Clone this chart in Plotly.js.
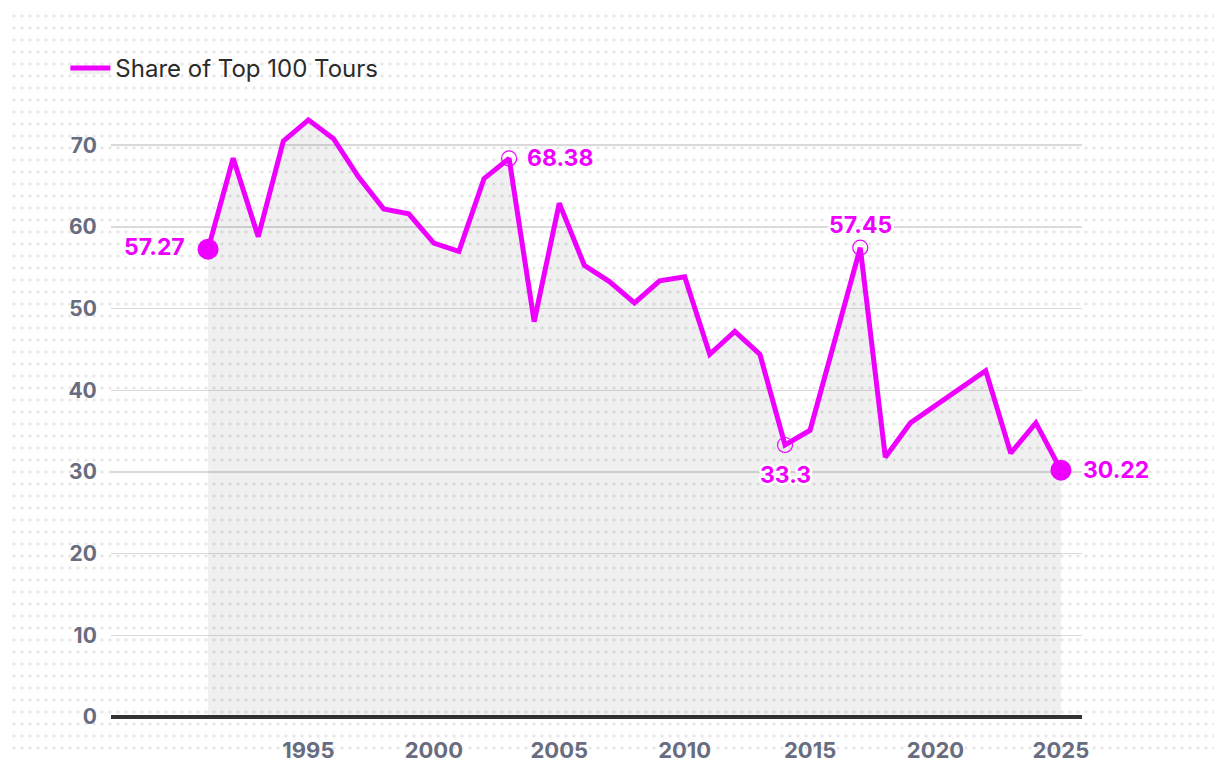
<!DOCTYPE html>
<html>
<head>
<meta charset="utf-8">
<script src="https://cdn.plot.ly/plotly-3.0.1.min.js"></script>
<style>
  html, body { margin: 0; padding: 0; background: #ffffff; }
  #wrap { position: relative; width: 1220px; height: 770px; overflow: hidden; }
  #dots {
    position: absolute; left: 10px; top: 10px; width: 1204px; height: 744px;
    background-image: radial-gradient(circle at 4px 6px, #e6e6e6 1.3px, rgba(255,255,255,0) 1.8px);
    background-size: 8px 12px;
  }
  #chart { position: absolute; left: 0; top: 0; width: 1220px; height: 770px; }
  .annotation-text { stroke: #ffffff; stroke-width: 5px; paint-order: stroke fill; stroke-linejoin: round; }
</style>
</head>
<body>
<div id="wrap">
  <div id="dots"></div>
  <div id="chart"></div>
</div>
<script>
// ---- data ----
const years = [1991, 1992, 1993, 1994, 1995, 1996, 1997, 1998, 1999, 2000,
               2001, 2002, 2003, 2004, 2005, 2006, 2007, 2008, 2009, 2010,
               2011, 2012, 2013, 2014, 2015, 2017, 2018, 2019, 2022, 2023,
               2024, 2025];
const share = [57.27, 68.4, 58.8, 70.5, 73.1, 70.8, 66.1, 62.2, 61.6, 58.0,
               57.0, 65.9, 68.38, 48.4, 62.9, 55.3, 53.3, 50.7, 53.4, 53.9,
               44.4, 47.2, 44.4, 33.3, 35.1, 57.45, 31.8, 36.0, 42.4, 32.3,
               36.0, 30.22];
const seriesName = "Share of Top 100 Tours";
const yTicks = [0, 10, 20, 30, 40, 50, 60, 70];
const xTicks = [1995, 2000, 2005, 2010, 2015, 2020, 2025];
const endpointYears = [1991, 2025];
const highlightYears = [2003, 2014, 2017];
const labelYears = [1991, 2003, 2014, 2017, 2025];

// ---- styling ----
const MAGENTA = "#ee00ff";
const font = "Inter, 'Liberation Sans', Arial, sans-serif";
const labelPlacement = {
  1991: { xanchor: "right", yanchor: "middle", xshift: -21, yshift: 2 },
  2003: { xanchor: "left", yanchor: "middle", xshift: 16, yshift: 0 },
  2014: { xanchor: "center", yanchor: "middle", xshift: 0, yshift: -30 },
  2017: { xanchor: "center", yanchor: "middle", xshift: 0, yshift: 23 },
  2025: { xanchor: "left", yanchor: "middle", xshift: 20, yshift: 0 }
};

const sizes = years.map(y => endpointYears.includes(y) ? 21 : (highlightYears.includes(y) ? 15 : 0));
const symbols = years.map(y => highlightYears.includes(y) ? "circle-open" : "circle");
const lineW = years.map(y => highlightYears.includes(y) ? 1.2 : 0);

const trace = {
  x: years,
  y: share,
  name: seriesName,
  type: "scatter",
  mode: "lines+markers",
  fill: "tozeroy",
  fillcolor: "rgba(0,0,0,0.06)",
  line: { color: MAGENTA, width: 5, shape: "linear" },
  marker: { color: MAGENTA, opacity: 1, size: sizes, symbol: symbols, line: { color: MAGENTA, width: lineW } },
  cliponaxis: false,
  hoverinfo: "x+y"
};

const annotations = labelYears.map(y => {
  const i = years.indexOf(y);
  const p = labelPlacement[y];
  return {
    x: y, y: share[i], xref: "x", yref: "y",
    text: String(share[i]),
    showarrow: false,
    xanchor: p.xanchor, yanchor: p.yanchor,
    xshift: p.xshift, yshift: p.yshift,
    font: { family: font, size: 23, color: MAGENTA, weight: 700 }
  };
});

const layout = {
  width: 1220,
  height: 770,
  paper_bgcolor: "rgba(0,0,0,0)",
  plot_bgcolor: "rgba(0,0,0,0)",
  margin: { l: 111, r: 138, t: 88.4, b: 53 },
  showlegend: true,
  legend: {
    x: -0.047, xanchor: "left",
    y: 1.031, yanchor: "middle",
    bgcolor: "rgba(0,0,0,0)",
    itemwidth: 40,
    font: { family: font, size: 24, color: "#2b2b2b" }
  },
  annotations: annotations,
  xaxis: {
    range: [1987.13, 2025.84],
    tickmode: "array",
    tickvals: xTicks,
    ticktext: xTicks.map(String),
    showgrid: false,
    zeroline: false,
    showline: false,
    ticks: "outside",
    ticklen: 14,
    tickcolor: "rgba(0,0,0,0)",
    tickfont: { family: font, size: 22, color: "#686c80", weight: 700 },
    fixedrange: true
  },
  yaxis: {
    range: [0, 77],
    tickmode: "array",
    tickvals: yTicks,
    ticktext: yTicks.map(String),
    showgrid: true,
    gridcolor: "#dadada",
    gridwidth: 1.5,
    zeroline: true,
    zerolinecolor: "#333333",
    zerolinewidth: 4,
    showline: false,
    ticks: "outside",
    ticklen: 9,
    tickcolor: "rgba(0,0,0,0)",
    tickfont: { family: font, size: 21, color: "#686c80", weight: 700 },
    fixedrange: true
  },
  font: { family: font }
};

Plotly.newPlot("chart", [trace], layout, { displayModeBar: false, staticPlot: true });
</script>
</body>
</html>
